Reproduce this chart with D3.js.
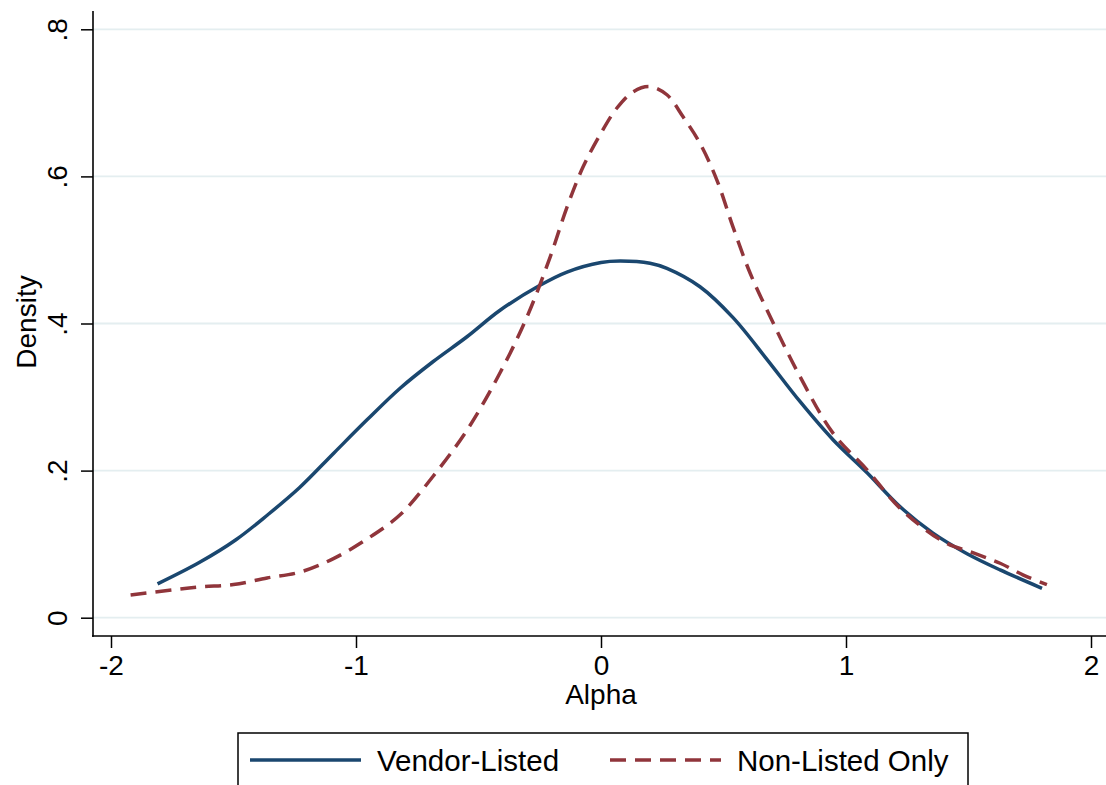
<!DOCTYPE html>
<html>
<head>
<meta charset="utf-8">
<script src="https://cdn.jsdelivr.net/npm/d3@7"></script>
<style>
  body { margin: 0; background: #fff; }
  text { font-family: "Liberation Sans", Arial, sans-serif; fill: #000; }
</style>
</head>
<body>
<script>
// kernel density estimates
var vendorX = [-1.81, -1.64, -1.49, -1.36, -1.23, -1.09, -0.955, -0.82, -0.686, -0.547, -0.412, -0.249, -0.139, 0, 0.078, 0.2, 0.269, 0.404, 0.539, 0.678, 0.812, 0.947, 1.086, 1.22, 1.355, 1.494, 1.629, 1.80];
var vendorY = [0.046, 0.075, 0.106, 0.140, 0.177, 0.224, 0.269, 0.312, 0.348, 0.382, 0.418, 0.452, 0.470, 0.483, 0.485, 0.482, 0.475, 0.450, 0.408, 0.351, 0.294, 0.242, 0.197, 0.151, 0.115, 0.087, 0.065, 0.040];

var nonX = [-1.92, -1.77, -1.637, -1.50, -1.363, -1.229, -1.094, -0.955, -0.82, -0.686, -0.547, -0.412, -0.302, -0.208, -0.139, -0.073, 0, 0.065, 0.131, 0.2, 0.269, 0.335, 0.404, 0.473, 0.539, 0.608, 0.678, 0.812, 0.947, 1.086, 1.22, 1.4, 1.52, 1.629, 1.724, 1.82];
var nonY = [0.031, 0.037, 0.042, 0.045, 0.054, 0.062, 0.080, 0.107, 0.140, 0.192, 0.255, 0.333, 0.409, 0.490, 0.558, 0.613, 0.659, 0.693, 0.715, 0.722, 0.711, 0.681, 0.645, 0.595, 0.531, 0.469, 0.418, 0.328, 0.251, 0.201, 0.149, 0.103, 0.088, 0.074, 0.058, 0.045];

var xTicks = [-2, -1, 0, 1, 2];
var yTicks = [0, 0.2, 0.4, 0.6, 0.8];
var yTickLabels = ['0', '.2', '.4', '.6', '.8'];
var seriesNames = ['Vendor-Listed', 'Non-Listed Only'];

var blue = '#1a476f', red = '#90353b';

var x = d3.scaleLinear().domain([-2, 2]).range([111, 1091]);
var y = d3.scaleLinear().domain([0, 0.8]).range([617.7, 29.3]);

var svg = d3.select('body').append('svg')
    .attr('width', 1106).attr('height', 785);

// gridlines
svg.selectAll('line.grid')
    .data(yTicks)
    .enter().append('line')
    .attr('class', 'grid')
    .attr('x1', 93).attr('x2', 1106)
    .attr('y1', function(d){ return y(d); })
    .attr('y2', function(d){ return y(d); })
    .attr('stroke', '#e4eef0')
    .attr('stroke-width', 1.8);

// x axis
var xAxis = d3.axisBottom(x).tickValues(xTicks).tickSize(12).tickSizeOuter(0)
    .tickFormat(function(d){ return d < 0 ? '-' + Math.abs(d) : d; });
var gx = svg.append('g').attr('transform', 'translate(0,636)').call(xAxis);
gx.select('.domain').remove();
gx.selectAll('.tick line').attr('stroke', '#000').attr('stroke-width', 1.5);
gx.selectAll('.tick text').attr('y', 0).attr('dy', 39)
    .attr('font-size', 28).attr('font-family', '"Liberation Sans", Arial, sans-serif');
svg.append('line').attr('x1', 92).attr('x2', 1106).attr('y1', 636).attr('y2', 636)
    .attr('stroke', '#000').attr('stroke-width', 1.6);

// y axis
var yAxis = d3.axisLeft(y).tickValues(yTicks).tickSize(12).tickSizeOuter(0)
    .tickFormat(function(d, i){ return yTickLabels[i]; });
var gy = svg.append('g').attr('transform', 'translate(93,0)').call(yAxis);
gy.select('.domain').remove();
gy.selectAll('.tick line').attr('stroke', '#000').attr('stroke-width', 1.5);
gy.selectAll('.tick text')
    .attr('x', 0).attr('dy', 0)
    .attr('transform', 'translate(-26,0) rotate(-90)')
    .attr('text-anchor', 'middle')
    .attr('font-size', 28).attr('font-family', '"Liberation Sans", Arial, sans-serif');
svg.append('line').attr('x1', 93).attr('x2', 93).attr('y1', 11).attr('y2', 636.8)
    .attr('stroke', '#000').attr('stroke-width', 1.6);

// axis titles
svg.append('text').attr('x', 601).attr('y', 704)
    .attr('text-anchor', 'middle').attr('font-size', 28).text('Alpha');
svg.append('text').attr('transform', 'translate(36,322) rotate(-90)')
    .attr('text-anchor', 'middle').attr('font-size', 28).text('Density');

// density curves
var line = d3.line().curve(d3.curveCatmullRom.alpha(0.5))
    .x(function(d){ return x(d[0]); })
    .y(function(d){ return y(d[1]); });

svg.append('path')
    .datum(d3.zip(vendorX, vendorY))
    .attr('d', line)
    .attr('fill', 'none').attr('stroke', blue).attr('stroke-width', 3.5);

svg.append('path')
    .datum(d3.zip(nonX, nonY))
    .attr('d', line)
    .attr('fill', 'none').attr('stroke', red).attr('stroke-width', 3.5)
    .attr('stroke-dasharray', '16,9');

// legend
svg.append('rect').attr('x', 238).attr('y', 733).attr('width', 730).attr('height', 70)
    .attr('fill', '#fff').attr('stroke', '#000').attr('stroke-width', 1.5);
var legendX = [250, 610];
var legendColors = [blue, red];
var legendDash = [null, '16,9'];
var lg = svg.selectAll('g.leg')
    .data(seriesNames)
    .enter().append('g')
    .attr('class', 'leg')
    .attr('transform', function(d, i){ return 'translate(' + legendX[i] + ',0)'; });
lg.append('line')
    .attr('x1', 0).attr('x2', 111).attr('y1', 760).attr('y2', 760)
    .attr('stroke', function(d, i){ return legendColors[i]; })
    .attr('stroke-width', 3.5)
    .attr('stroke-dasharray', function(d, i){ return legendDash[i]; });
lg.append('text')
    .attr('x', 127).attr('y', 770.5)
    .attr('font-size', 29.5)
    .text(function(d){ return d; });
</script>
</body>
</html>
